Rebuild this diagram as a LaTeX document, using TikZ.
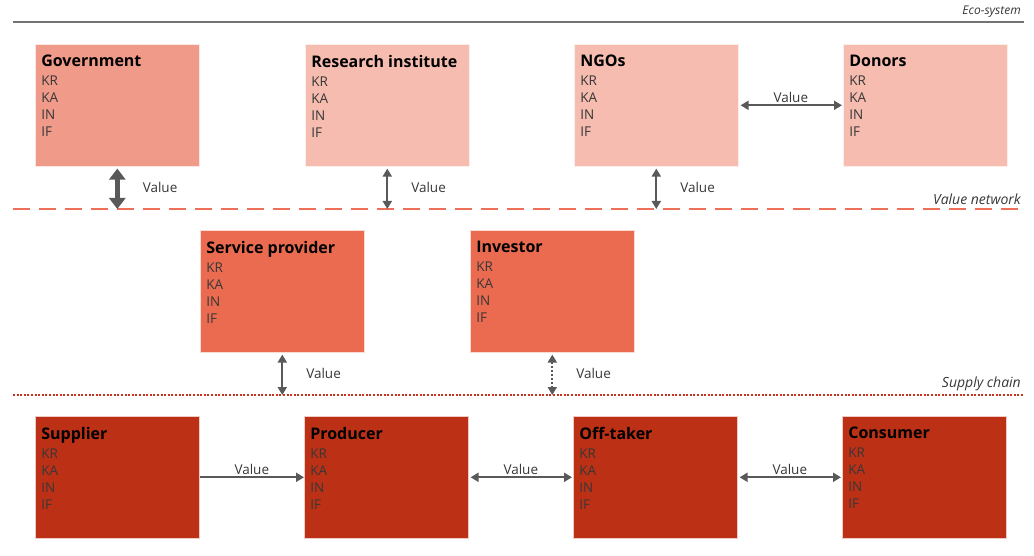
\documentclass[tikz,border=0pt]{standalone}
\usepackage{fontspec}
\setmainfont{Open Sans}
\usetikzlibrary{arrows.meta}

\definecolor{govred}{RGB}{240,154,138}
\definecolor{palered}{RGB}{245,188,175}
\definecolor{midred}{RGB}{234,107,80}
\definecolor{darkred}{RGB}{188,48,22}
\definecolor{arrowgray}{RGB}{89,89,89}
\definecolor{netline}{RGB}{238,112,88}
\definecolor{chainline}{RGB}{200,50,30}
\definecolor{bodygray}{RGB}{55,55,55}

\newcommand{\actor}[1]{\parbox[t][100pt][t]{152pt}{%
  \fontsize{16}{18}\selectfont\bfseries #1\par\vspace{2pt}%
  \fontsize{13.5}{17}\selectfont\mdseries\color{bodygray}KR\\KA\\IN\\IF}}

\begin{document}
\begin{tikzpicture}[x=1pt, y=-1pt,
    actorbox/.style={anchor=north west, inner xsep=6pt, inner ysep=11pt,
      draw=white!75!#1, fill=#1, line width=0.6pt},
    flow/.style={{Triangle[length=8pt,width=9pt]}-{Triangle[length=8pt,width=9pt]},
      line width=2pt, draw=arrowgray, shorten <=2pt},
    bigflow/.style={{Triangle[length=11pt,width=16pt]}-{Triangle[length=11pt,width=16pt]},
      line width=5pt, draw=arrowgray, shorten <=2pt},
    oneway/.style={-{Triangle[length=8pt,width=9pt]}, line width=2pt, draw=arrowgray},
    valuelbl/.style={font=\fontsize{13.5}{15}\selectfont, text=bodygray, inner sep=2pt},
    layerlbl/.style={font=\fontsize{14}{16}\selectfont\itshape, text=bodygray,
      anchor=south east, inner sep=1pt}]
  \useasboundingbox (0,0) rectangle (1034,556);

  % layer lines
  \coordinate (ecoL) at (13,22);
  \coordinate (ecoR) at (1024,22);
  \coordinate (netL) at (13,209);
  \coordinate (netR) at (1024,209);
  \coordinate (chainL) at (13,395);
  \coordinate (chainR) at (1024,395);
  \draw[line width=1.5pt, draw=black!55] (ecoL) -- (ecoR);
  \draw[line width=2.5pt, draw=netline, dash pattern=on 17pt off 9pt] (netL) -- (netR);
  \draw[line width=2pt, draw=chainline, dash pattern=on 2pt off 1.6pt] (chainL) -- (chainR);
  \node[layerlbl, font=\fontsize{12}{14}\selectfont\itshape] (ecolbl) at (1022,19) {Eco-system};
  \node[layerlbl] (netlbl) at (1022,206) {Value network};
  \node[layerlbl] (chainlbl) at (1022,392) {Supply chain};

  % value network
  \node[actorbox=govred] (gov) at (35,44) {\actor{Government}};
  \node[actorbox=palered] (res) at (305,44) {\actor{Research institute}};
  \node[actorbox=palered] (ngo) at (574,44) {\actor{NGOs}};
  \node[actorbox=palered] (don) at (843,44) {\actor{Donors}};

  % intermediaries
  \node[actorbox=midred] (serv) at (200,230) {\actor{Service provider}};
  \node[actorbox=midred] (inv) at (470,230) {\actor{Investor}};

  % supply chain
  \node[actorbox=darkred] (sup) at (35,416) {\actor{Supplier}};
  \node[actorbox=darkred] (prod) at (304,416) {\actor{Producer}};
  \node[actorbox=darkred] (off) at (573,416) {\actor{Off-taker}};
  \node[actorbox=darkred] (cons) at (842,416) {\actor{Consumer}};

  % value flows
  \draw[bigflow] (gov.south) -- (gov.south |- netL) node[valuelbl, midway, anchor=west, xshift=21pt] {Value};
  \draw[flow] (res.south) -- (res.south |- netL) node[valuelbl, midway, anchor=west, xshift=21pt] {Value};
  \draw[flow] (ngo.south) -- (ngo.south |- netL) node[valuelbl, midway, anchor=west, xshift=21pt] {Value};
  \draw[flow, shorten >=1pt] (ngo.east) -- (don.west) node[valuelbl, midway, anchor=south, yshift=0pt] {Value};
  \draw[flow] (serv.south) -- (serv.south |- chainL) node[valuelbl, midway, anchor=west, xshift=21pt] {Value};
  \draw[flow, dash pattern=on 2pt off 2pt] (inv.south) -- (inv.south |- chainL) node[valuelbl, midway, anchor=west, xshift=21pt] {Value};
  \draw[oneway] (sup.east) -- (prod.west) node[valuelbl, midway, anchor=south, yshift=0pt] {Value};
  \draw[flow, shorten >=1pt] (prod.east) -- (off.west) node[valuelbl, midway, anchor=south, yshift=0pt] {Value};
  \draw[flow, shorten >=1pt] (off.east) -- (cons.west) node[valuelbl, midway, anchor=south, yshift=0pt] {Value};
\end{tikzpicture}
\end{document}
